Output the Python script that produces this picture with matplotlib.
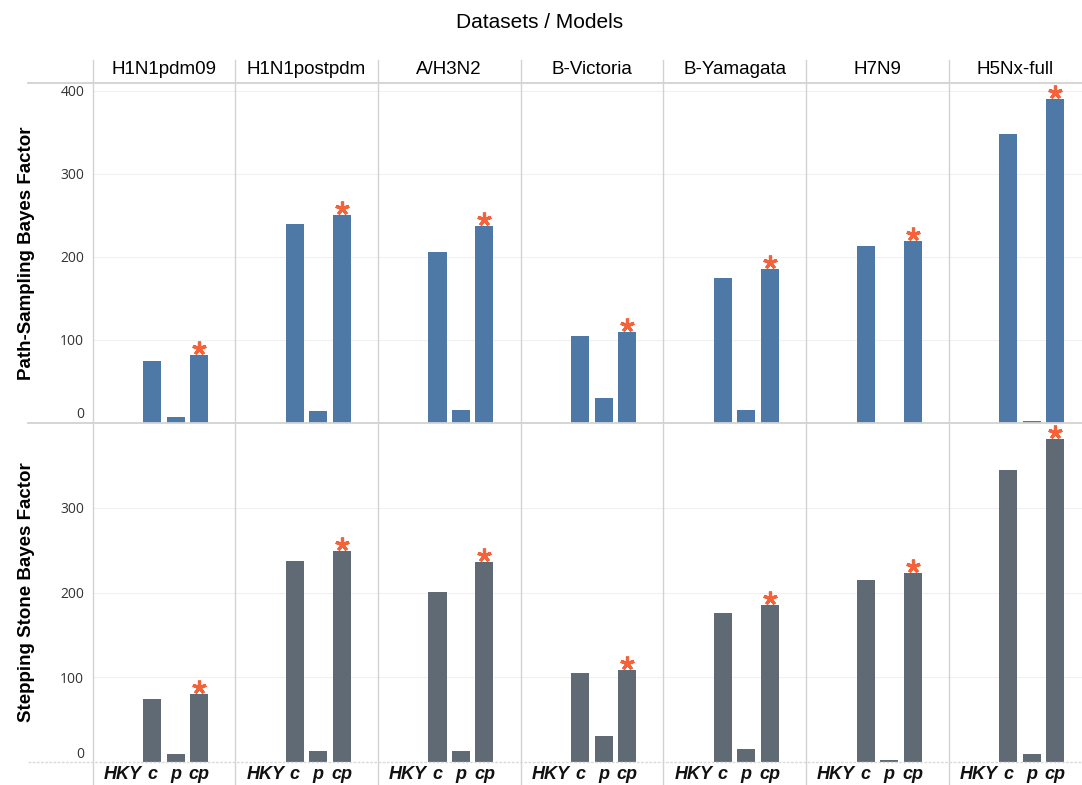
import numpy as np
import matplotlib.pyplot as plt
from matplotlib import transforms
from matplotlib.lines import Line2D

datasets = ["H1N1pdm09", "H1N1postpdm", "A/H3N2", "B-Victoria",
            "B-Yamagata", "H7N9", "H5Nx-full"]
models = ["HKY", "c", "p", "cp"]

# Bayes factors relative to HKY (HKY itself is the reference, so 0)
path_sampling = [
    [0, 74, 7, 81],
    [0, 239, 14, 250],
    [0, 206, 15, 237],
    [0, 104, 29, 109],
    [0, 174, 15, 185],
    [0, 213, 0, 219],
    [0, 348, 2, 390],
]
stepping_stone = [
    [0, 74, 9, 80],
    [0, 237, 13, 249],
    [0, 201, 13, 236],
    [0, 105, 31, 109],
    [0, 176, 15, 185],
    [0, 215, 2, 223],
    [0, 345, 10, 381],
]

rows = [
    ("Path-Sampling Bayes Factor", path_sampling, "#4e79a7", 409.5, [0, 100, 200, 300, 400]),
    ("Stepping Stone Bayes Factor", stepping_stone, "#606a74", 400.8, [0, 100, 200, 300]),
]

W, H = 1082, 785
fig = plt.figure(figsize=(W / 100, H / 100), dpi=100)
plt.rcParams["font.family"] = ["Liberation Sans", "DejaVu Sans"]

x0, colw = 92.5, 142.7
row_edges = [(83, 422.5), (422.5, 762)]
line_col = "#d2d2d2"
star_col = "#f4623a"

xs = np.arange(len(models))
for r, (ylabel, data, color, ytop, yticks) in enumerate(rows):
    top, bottom = row_edges[r]
    for c, name in enumerate(datasets):
        left = x0 + c * colw
        ax = fig.add_axes([left / W, 1 - bottom / H, colw / W, (bottom - top) / H])
        vals = data[c]
        ax.bar(xs, vals, width=0.77, color=color, zorder=2)
        # mark the best model of each dataset
        best = int(np.argmax(vals))
        off = transforms.offset_copy(ax.transData, fig=fig, x=0, y=7, units="dots")
        ax.plot(xs[best], vals[best], marker=(5, 2, 0), ms=10, mew=2.3,
                color=star_col, transform=off, clip_on=False, zorder=3)
        ax.set_xlim(1.5 - 3.04, 1.5 + 3.04)
        ax.set_ylim(0, ytop)
        ax.set_yticks(yticks)
        for v in yticks[1:]:
            ax.axhline(v, color="#f0f0f0", lw=0.8, zorder=0)
        for s in ax.spines.values():
            s.set_visible(False)
        ax.tick_params(length=0)
        if c == 0:
            ax.set_yticklabels([str(v) for v in yticks], fontsize=10,
                               family="Open Sans", color="#333333")
            ax.tick_params(axis="y", pad=6)
            ax.get_yticklabels()[0].set_va("bottom")
        else:
            ax.set_yticklabels([])
        if r == 1:
            ax.set_xticks(xs)
            ax.set_xticklabels(models, fontsize=13, fontweight="bold",
                               style="italic", color="#111111")
            ax.tick_params(axis="x", pad=3)
            # nudge the wide "HKY" label left so it clears "c"
            lab = ax.xaxis.get_major_ticks()[0].label1
            lab.set_transform(lab.get_transform()
                              + transforms.ScaledTranslation(-6 / 100, 0, fig.dpi_scale_trans))
        else:
            ax.set_xticks([])
    fig.text(27 / W, 1 - (top + bottom) / 2 / H, ylabel, rotation=90,
             ha="center", va="center", fontsize=13.5, fontweight="bold")

# column headers
for c, name in enumerate(datasets):
    cx = x0 + c * colw + colw / 2
    cx = min(cx, (x0 + c * colw + W) / 2)
    fig.text(cx / W, 1 - 70 / H, name, ha="center", va="center", fontsize=13.5)

fig.text(540 / W, 1 - 22 / H, "Datasets / Models", ha="center", va="center",
         fontsize=15)

# panel separators
for c in range(len(datasets)):
    xv = (x0 + c * colw) / W
    fig.add_artist(Line2D([xv, xv], [1 - 60 / H, 0], color=line_col, lw=1.0))
for yh in (83, 422.5):
    fig.add_artist(Line2D([28 / W, 1], [1 - yh / H] * 2, color=line_col, lw=1.3))
fig.add_artist(Line2D([28 / W, 1], [1 - 762 / H] * 2, color="#dadada", lw=1.0,
                      ls=(0, (2, 1))))

fig.savefig("out.png", dpi=100)
